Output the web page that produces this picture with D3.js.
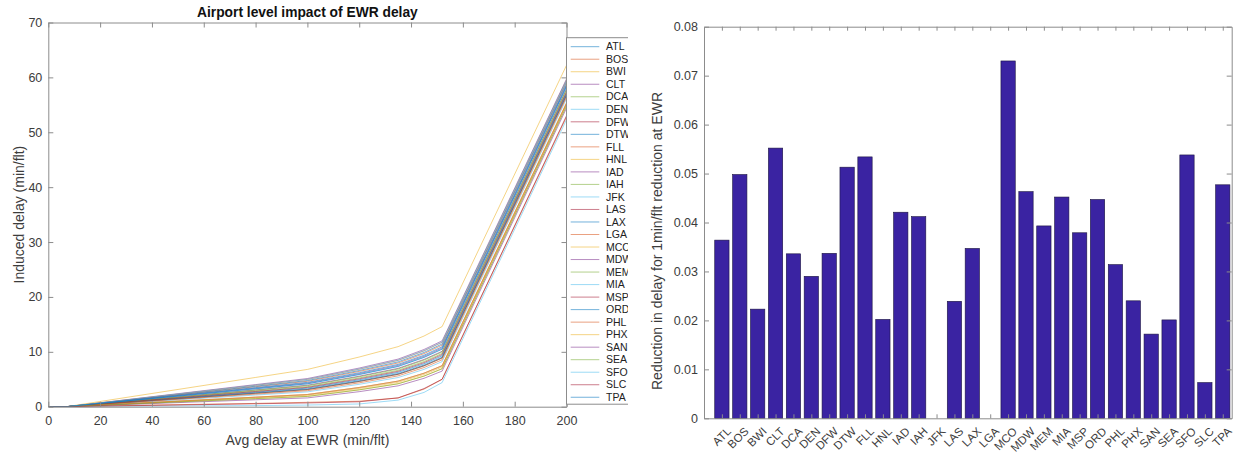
<!DOCTYPE html>
<html><head><meta charset="utf-8">
<script src="https://cdn.jsdelivr.net/npm/d3@7"></script>
<style>
body{margin:0;background:#fff;}
svg{display:block;font-family:"Liberation Sans",Arial,Helvetica,sans-serif;}
.axis text{fill:#3c3c3c;font-size:12.5px;}
.axis path,.axis line{stroke:#8c8c8c;stroke-width:1;}
</style></head><body><svg id="c" width="1243" height="454"></svg>
<script>
// Airports (EWR excluded)
const airports = ["ATL","BOS","BWI","CLT","DCA","DEN","DFW","DTW","FLL","HNL","IAD","IAH","JFK","LAS","LAX","LGA","MCO","MDW","MEM","MIA","MSP","ORD","PHL","PHX","SAN","SEA","SFO","SLC","TPA"];

// Avg delay at EWR (min/flt) sample points
const ewrDelay = [0, 7, 40, 80, 100, 120, 135, 145, 152, 200];

// Induced delay (min/flt) per airport at each EWR delay level
const d_ATL = [0, 0, 1.20, 2.66, 3.39, 4.91, 6.26, 7.82, 9.28, 57.1];
const d_BOS = [0, 0, 1.64, 3.64, 4.63, 6.43, 7.97, 9.67, 11.22, 59.0];
const d_BWI = [0, 0, 0.74, 1.63, 2.07, 3.32, 4.45, 5.88, 7.23, 55.1];
const d_CLT = [0, 0, 1.82, 4.03, 5.13, 7.04, 8.67, 10.42, 12.0, 59.7];
const d_DCA = [0, 0, 1.11, 2.45, 3.12, 4.60, 5.90, 7.44, 8.87, 56.7];
const d_DEN = [0, 0, 0.96, 2.12, 2.70, 4.08, 5.31, 6.80, 8.21, 56.1];
const d_DFW = [0, 0, 1.11, 2.46, 3.13, 4.61, 5.91, 7.45, 8.89, 56.7];
const d_DTW = [0, 0, 1.69, 3.74, 4.77, 6.60, 8.17, 9.88, 11.44, 59.2];
const d_FLL = [0, 0, 1.76, 3.90, 4.97, 6.83, 8.44, 10.17, 11.74, 59.5];
const d_HNL = [0, 0, 0.67, 1.47, 1.88, 3.08, 4.19, 5.59, 6.93, 54.8];
const d_IAD = [0, 0, 1.39, 3.07, 3.92, 5.56, 6.99, 8.61, 10.10, 57.9];
const d_IAH = [0, 0, 1.36, 3.01, 3.83, 5.46, 6.87, 8.49, 9.97, 57.8];
const d_JFK = [0, 0, 0.10, 0.20, 0.30, 0.50, 1.20, 2.60, 4.40, 52.3];
const d_LAS = [0, 0, 0.79, 1.74, 2.22, 3.50, 4.66, 6.10, 7.47, 55.3];
const d_LAX = [0, 0, 1.15, 2.53, 3.23, 4.72, 6.04, 7.59, 9.03, 56.9];
const d_LGA = [0, 0, 0.30, 0.60, 0.80, 1.00, 1.60, 3.20, 5.00, 52.8];
const d_MCO = [0, 0, 2.41, 5.33, 6.79, 9.05, 10.94, 12.87, 14.6, 62.2];
const d_MDW = [0, 0, 1.53, 3.38, 4.31, 6.03, 7.53, 9.19, 10.71, 58.5];
const d_MEM = [0, 0, 1.30, 2.87, 3.65, 5.24, 6.63, 8.22, 9.70, 57.5];
const d_MIA = [0, 0, 1.49, 3.30, 4.20, 5.91, 7.39, 9.04, 10.55, 58.3];
const d_MSP = [0, 0, 1.25, 2.77, 3.52, 5.08, 6.45, 8.03, 9.50, 57.3];
const d_ORD = [0, 0, 1.48, 3.26, 4.16, 5.85, 7.32, 8.97, 10.48, 58.3];
const d_PHL = [0, 0, 1.04, 2.29, 2.92, 4.35, 5.62, 7.13, 8.55, 56.4];
const d_PHX = [0, 0, 0.79, 1.75, 2.23, 3.51, 4.67, 6.11, 7.48, 55.4];
const d_SAN = [0, 0, 0.57, 1.26, 1.60, 2.74, 3.80, 5.17, 6.49, 54.4];
const d_SEA = [0, 0, 0.66, 1.47, 1.87, 3.07, 4.17, 5.57, 6.91, 54.8];
const d_SFO = [0, 0, 1.78, 3.93, 5.00, 6.88, 8.49, 10.22, 11.80, 59.5];
const d_SLC = [0, 0, 0.24, 0.53, 0.68, 0.90, 1.60, 3.30, 5.00, 53.0];
const d_TPA = [0, 0, 1.57, 3.48, 4.44, 6.19, 7.71, 9.38, 10.92, 58.7];
const inducedSeries = [d_ATL,d_BOS,d_BWI,d_CLT,d_DCA,d_DEN,d_DFW,d_DTW,d_FLL,d_HNL,d_IAD,d_IAH,d_JFK,d_LAS,d_LAX,d_LGA,d_MCO,d_MDW,d_MEM,d_MIA,d_MSP,d_ORD,d_PHL,d_PHX,d_SAN,d_SEA,d_SFO,d_SLC,d_TPA];

// Reduction in delay for 1 min/flt reduction at EWR
const reduction = [0.0364,0.0498,0.0223,0.0552,0.0336,0.0290,0.0337,0.0513,0.0534,0.0202,0.0421,0.0412,0,0.0239,0.0347,0,0.0730,0.0463,0.0393,0.0452,0.0379,0.0447,0.0314,0.0240,0.0172,0.0201,0.0538,0.0073,0.0477];

// Tick values
const xTicksL = [0,20,40,60,80,100,120,140,160,180,200];
const yTicksL = [0,10,20,30,40,50,60,70];
const yTicksR = [0,0.01,0.02,0.03,0.04,0.05,0.06,0.07,0.08];

const lineColors = ["#0072BD","#D95319","#EDB120","#7E2F8E","#77AC30","#4DBEEE","#A2142F"];

const svg = d3.select("#c");
svg.append("rect").attr("width",1243).attr("height",454).attr("fill","#fff");

// ---------- Left: induced delay lines ----------
const xL = d3.scaleLinear().domain([0,200]).range([48.3,566.5]);
const yL = d3.scaleLinear().domain([0,70]).range([406.7,22.5]);

const left = svg.append("g");
left.append("clipPath").attr("id","plotL").append("rect")
  .attr("x",xL(0)).attr("y",yL(70)).attr("width",xL(200)-xL(0)).attr("height",yL(0)-yL(70));

const line = d3.line().x((d,i)=>xL(ewrDelay[i])).y(d=>yL(d));
left.append("g").attr("clip-path","url(#plotL)")
  .selectAll("path").data(inducedSeries).join("path")
  .attr("d",line).attr("fill","none")
  .attr("stroke",(d,i)=>lineColors[i%7])
  .attr("stroke-width",0.85).attr("stroke-opacity",0.65);

left.append("g").attr("class","axis").attr("transform",`translate(0,${yL(0)})`)
  .call(d3.axisBottom(xL).tickValues(xTicksL).tickSize(-5).tickSizeOuter(0).tickPadding(9));
left.append("g").attr("class","axis").attr("transform",`translate(0,${yL(70)})`)
  .call(d3.axisTop(xL).tickValues(xTicksL).tickSize(-5).tickSizeOuter(0).tickFormat(""));
left.append("g").attr("class","axis").attr("transform",`translate(${xL(0)},0)`)
  .call(d3.axisLeft(yL).tickValues(yTicksL).tickSize(-5).tickSizeOuter(0).tickPadding(6));
left.append("g").attr("class","axis").attr("transform",`translate(${xL(200)},0)`)
  .call(d3.axisRight(yL).tickValues(yTicksL).tickSize(-5).tickSizeOuter(0).tickFormat(""));

left.append("text").attr("x",(xL(0)+xL(200))/2).attr("y",17)
  .attr("text-anchor","middle").attr("font-weight","bold").attr("font-size",13.8)
  .attr("fill","#111").text("Airport level impact of EWR delay");
left.append("text").attr("x",(xL(0)+xL(200))/2).attr("y",445)
  .attr("text-anchor","middle").attr("font-size",14).attr("fill","#3c3c3c")
  .text("Avg delay at EWR (min/flt)");
left.append("text").attr("transform",`translate(24,${(yL(0)+yL(70))/2}) rotate(-90)`)
  .attr("text-anchor","middle").attr("font-size",14).attr("fill","#3c3c3c")
  .text("Induced delay (min/flt)");

// Legend (cut off on its right side by the neighbouring panel)
svg.append("clipPath").attr("id","legClip").append("rect")
  .attr("x",560).attr("y",0).attr("width",68).attr("height",454);
const legend = svg.append("g").attr("clip-path","url(#legClip)");
legend.append("rect").attr("x",566.5).attr("y",37.7).attr("width",90).attr("height",366.5)
  .attr("fill","#fff").attr("stroke","#8c8c8c");
const legItems = legend.selectAll("g.item").data(airports).join("g").attr("class","item")
  .attr("transform",(d,i)=>`translate(0,${46.7+i*12.52})`);
legItems.append("line").attr("x1",570.7).attr("x2",599.3)
  .attr("stroke",(d,i)=>lineColors[i%7]).attr("stroke-width",0.85).attr("stroke-opacity",0.65);
legItems.append("text").attr("x",606).attr("dy","0.35em").attr("font-size",10.5)
  .attr("fill","#222").text(d=>d);

// ---------- Right: bar chart ----------
const xR = d3.scaleLinear().domain([0,29.5]).range([704,1231.7]);
const yR = d3.scaleLinear().domain([0,0.08]).range([418.3,26.7]);
const bw = (xR(1)-xR(0))*0.8;
const right = svg.append("g");

right.selectAll("rect.bar").data(reduction).join("rect").attr("class","bar")
  .attr("x",(d,i)=>xR(i+1)-bw/2).attr("width",bw)
  .attr("y",d=>yR(d)).attr("height",d=>yR(0)-yR(d))
  .attr("fill","#3a23a2").attr("stroke","#1c1440").attr("stroke-width",0.6)
  .attr("display",d=>d>0?null:"none");

const catTicks = airports.map((d,i)=>i+1);
right.append("g").attr("class","axis").attr("transform",`translate(0,${yR(0)})`)
  .call(d3.axisBottom(xR).tickValues(catTicks).tickSize(-4).tickSizeOuter(0).tickFormat(""));
right.append("g").attr("class","axis").attr("transform",`translate(0,${yR(0.08)})`)
  .call(d3.axisTop(xR).tickValues(catTicks).tickSize(-4).tickSizeOuter(0).tickFormat(""));
right.append("g").attr("class","axis").attr("transform",`translate(${xR(0)},0)`)
  .call(d3.axisLeft(yR).tickValues(yTicksR).tickSize(-5).tickSizeOuter(0).tickPadding(6)
    .tickFormat(d=>d===0?"0":d3.format(".2f")(d)));
right.append("g").attr("class","axis").attr("transform",`translate(${xR(29.5)},0)`)
  .call(d3.axisRight(yR).tickValues(yTicksR).tickSize(-5).tickSizeOuter(0).tickFormat(""));

right.append("g").selectAll("text").data(airports).join("text")
  .attr("transform",(d,i)=>`translate(${xR(i+1)+4},${yR(0)+8}) rotate(-45)`)
  .attr("text-anchor","end").attr("dy","0.71em").attr("font-size",11.5).attr("fill","#3c3c3c")
  .text(d=>d);

right.append("text").attr("transform",`translate(662,241) rotate(-90)`)
  .attr("text-anchor","middle").attr("font-size",14).attr("fill","#3c3c3c")
  .text("Reduction in delay for 1min/flt reduction at EWR");
</script></body></html>
